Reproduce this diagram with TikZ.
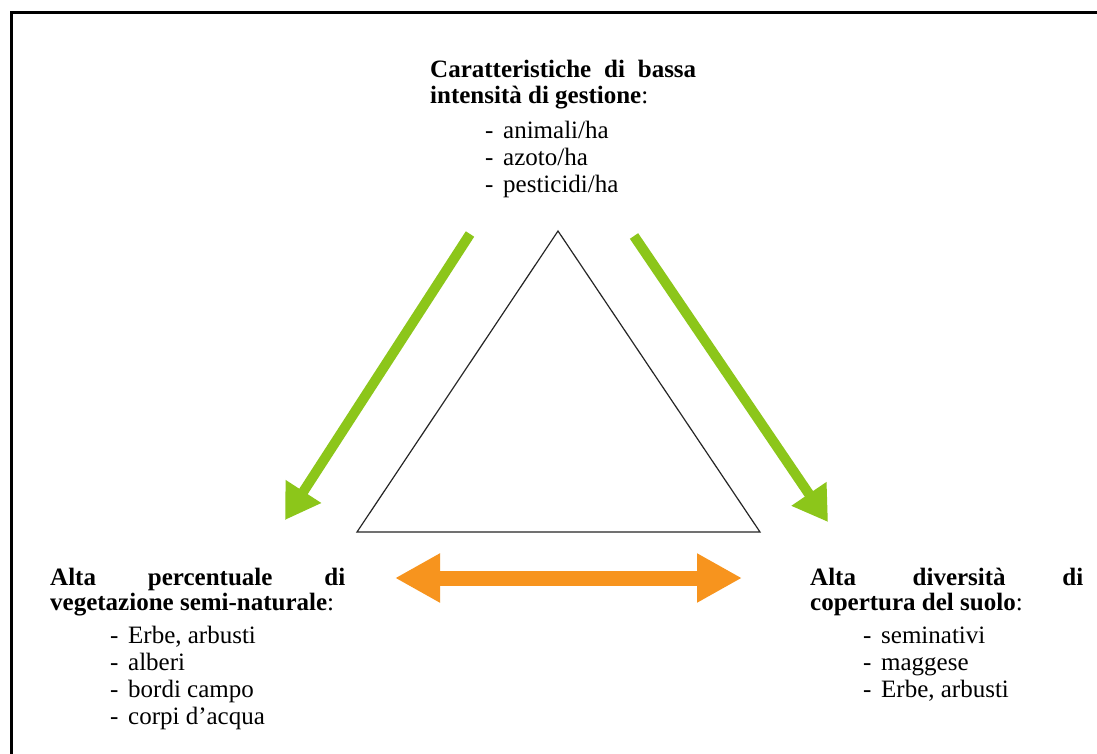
\documentclass[tikz,border=0pt]{standalone}
\usepackage{fontspec}
\setmainfont{Liberation Serif}
\usetikzlibrary{arrows.meta}
\definecolor{agreen}{RGB}{140,198,26}
\definecolor{aorange}{RGB}{247,148,30}
\begin{document}
\begin{tikzpicture}[x=1pt,y=-1pt,
  txt/.style={anchor=base west, inner sep=0pt, font=\fontsize{25}{30}\selectfont},
  frameline/.style={line width=3pt, black},
  tri/.style={line width=1.2pt, black!85},
  greenarrow/.style={line width=10pt, agreen, -{Triangle[length=34pt,width=40pt]}},
  orangearrow/.style={line width=15pt, aorange, {Triangle[length=45pt,width=46pt]}-{Triangle[length=45pt,width=46pt]}}]
\useasboundingbox (0,0) rectangle (1097,754);
\fill[white] (0,0) rectangle (1097,754);
% frame
\coordinate (fTL) at (11,13);
\coordinate (fTR) at (1097,13);
\coordinate (fBL) at (11,754);
\draw[frameline] (fTR) -- (fTL) -- (fBL);
% triangle
\coordinate (apex) at (558,231);
\coordinate (bl) at (357,532);
\coordinate (br) at (760,532);
\draw[tri] (apex) -- (bl) -- (br) -- cycle;
% green arrows
\coordinate (gL1) at (470,234);
\coordinate (gL2) at (285,520);
\coordinate (gR1) at (634,236);
\coordinate (gR2) at (828,522);
\draw[greenarrow] (gL1) -- (gL2);
\draw[greenarrow] (gR1) -- (gR2);
% orange double arrow
\coordinate (oL) at (395,578);
\coordinate (oR) at (742,578);
\draw[orangearrow] (oL) -- (oR);
% top text
\node[txt] (t1) at (430,78) {\makebox[266pt][s]{\textbf{Caratteristiche di bassa}}};
\node[txt] (t2) at (430,104) {\textbf{intensità di gestione}:};
\node[txt] (t3) at (485,139) {\makebox[18pt][l]{-}animali/ha};
\node[txt] (t4) at (485,166) {\makebox[18pt][l]{-}azoto/ha};
\node[txt] (t5) at (485,193) {\makebox[18pt][l]{-}pesticidi/ha};
% left text
\node[txt] (l1) at (50,585) {\makebox[295pt][s]{\textbf{Alta percentuale di}}};
\node[txt] (l2) at (50,610) {\textbf{vegetazione semi-naturale}:};
\node[txt] (l3) at (110,643) {\makebox[18pt][l]{-}Erbe, arbusti};
\node[txt] (l4) at (110,670) {\makebox[18pt][l]{-}alberi};
\node[txt] (l5) at (110,697) {\makebox[18pt][l]{-}bordi campo};
\node[txt] (l6) at (110,724) {\makebox[18pt][l]{-}corpi d’acqua};
% right text
\node[txt] (r1) at (810,585) {\makebox[273pt][s]{\textbf{Alta diversità di}}};
\node[txt] (r2) at (810,610) {\textbf{copertura del suolo}:};
\node[txt] (r3) at (863,643) {\makebox[18pt][l]{-}seminativi};
\node[txt] (r4) at (863,670) {\makebox[18pt][l]{-}maggese};
\node[txt] (r5) at (863,697) {\makebox[18pt][l]{-}Erbe, arbusti};
\end{tikzpicture}
\end{document}
